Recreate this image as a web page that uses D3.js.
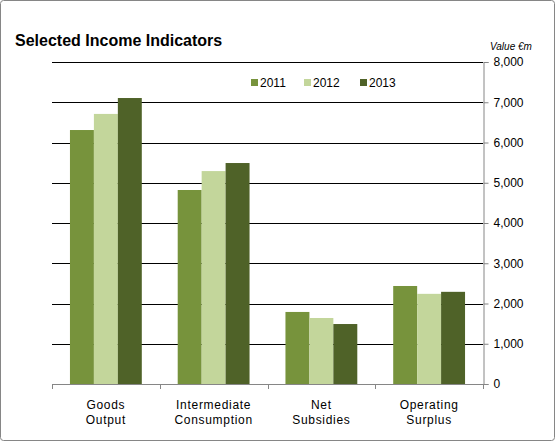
<!DOCTYPE html>
<html>
<head>
<meta charset="utf-8">
<script src="https://cdn.jsdelivr.net/npm/d3@7.9.0/dist/d3.min.js"></script>
<style>
  body { margin: 0; background: #fff; }
  svg { display: block; font-family: "Liberation Sans", Arial, sans-serif; }
</style>
</head>
<body>
<svg id="chart" width="556" height="442"></svg>
<script>
const categories = [["Goods", "Output"], ["Intermediate", "Consumption"], ["Net", "Subsidies"], ["Operating", "Surplus"]];
const years = ["2011", "2012", "2013"];
const values2011 = [6310, 4820, 1790, 2435];
const values2012 = [6710, 5290, 1640, 2240];
const values2013 = [7105, 5490, 1490, 2290];
const yTicks = [0, 1000, 2000, 3000, 4000, 5000, 6000, 7000, 8000];

const colors = { "2011": "#77933c", "2012": "#c3d69b", "2013": "#4f6228" };
const series = { "2011": values2011, "2012": values2012, "2013": values2013 };

const svg = d3.select('#chart');

// outer frame
svg.append('rect')
  .attr('x', 0.5).attr('y', 0.5)
  .attr('width', 554).attr('height', 440)
  .attr('rx', 3)
  .attr('fill', '#fff')
  .attr('stroke', '#868686');

const plotLeft = 52, plotRight = 483, plotTop = 62, plotBottom = 384;
const catKeys = categories.map(c => c.join(' '));

let x0 = d3.scaleBand().domain(catKeys).range([plotLeft, plotRight]);
let x1 = d3.scaleBand().domain(years).range([0, x0.bandwidth()]).paddingOuter(0.75);
let y = d3.scaleLinear().domain([0, 8000]).range([plotBottom, plotTop]);

// gridlines
svg.append('g')
  .selectAll('line')
  .data(yTicks.filter(t => t > 0))
  .join('line')
  .attr('x1', plotLeft).attr('x2', plotRight)
  .attr('y1', d => Math.round(y(d)) + 0.5)
  .attr('y2', d => Math.round(y(d)) + 0.5)
  .attr('stroke', '#000');

// bars
catKeys.forEach((cat, i) => {
  years.forEach(yr => {
    let v = series[yr][i];
    svg.append('rect')
      .attr('x', x0(cat) + x1(yr))
      .attr('y', y(v))
      .attr('width', x1.bandwidth())
      .attr('height', plotBottom - y(v))
      .attr('fill', colors[yr]);
  });
});

// right value axis
let yAxis = svg.append('g')
  .attr('transform', `translate(${plotRight + 0.5},0)`)
  .call(d3.axisRight(y).tickValues(yTicks).tickSize(5).tickPadding(5).tickFormat(d3.format(',')));
yAxis.select('.domain').attr('stroke', '#868686');
yAxis.selectAll('.tick line').attr('stroke', '#868686');
yAxis.selectAll('.tick text')
  .attr('font-size', 12)
  .attr('fill', '#000')
  .attr('font-family', '"Liberation Sans", Arial, sans-serif');

// bottom category axis line + boundary ticks
svg.append('line')
  .attr('x1', plotLeft).attr('x2', plotRight)
  .attr('y1', plotBottom + 0.5).attr('y2', plotBottom + 0.5)
  .attr('stroke', '#868686');
let bounds = catKeys.map(c => x0(c)).concat([plotRight]);
svg.append('g')
  .selectAll('line')
  .data(bounds)
  .join('line')
  .attr('x1', d => Math.round(d) + 0.5).attr('x2', d => Math.round(d) + 0.5)
  .attr('y1', plotBottom).attr('y2', plotBottom + 5)
  .attr('stroke', '#868686');

// category labels
categories.forEach((lines, i) => {
  let cx = x0(catKeys[i]) + x0.bandwidth() / 2;
  let t = svg.append('text')
    .attr('x', cx)
    .attr('text-anchor', 'middle')
    .attr('font-size', 12)
    .attr('letter-spacing', 0.7)
    .attr('fill', '#000');
  lines.forEach((ln, j) => {
    t.append('tspan').attr('x', cx).attr('y', 409 + j * 15).text(ln);
  });
});

// title
svg.append('text')
  .attr('x', 15).attr('y', 46)
  .attr('font-size', 16)
  .attr('font-weight', 'bold')
  .attr('fill', '#000')
  .text('Selected Income Indicators');

// unit label
svg.append('text')
  .attr('x', 490).attr('y', 50)
  .attr('font-size', 10)
  .attr('font-style', 'italic')
  .attr('fill', '#000')
  .text('Value €m');

// legend
let legendX = [251, 304, 360];
let legend = svg.append('g');
years.forEach((yr, i) => {
  legend.append('rect')
    .attr('x', legendX[i]).attr('y', 79)
    .attr('width', 7).attr('height', 7)
    .attr('fill', colors[yr]);
  legend.append('text')
    .attr('x', legendX[i] + 9).attr('y', 87)
    .attr('font-size', 12)
    .attr('fill', '#000')
    .text(yr);
});
</script>
</body>
</html>
